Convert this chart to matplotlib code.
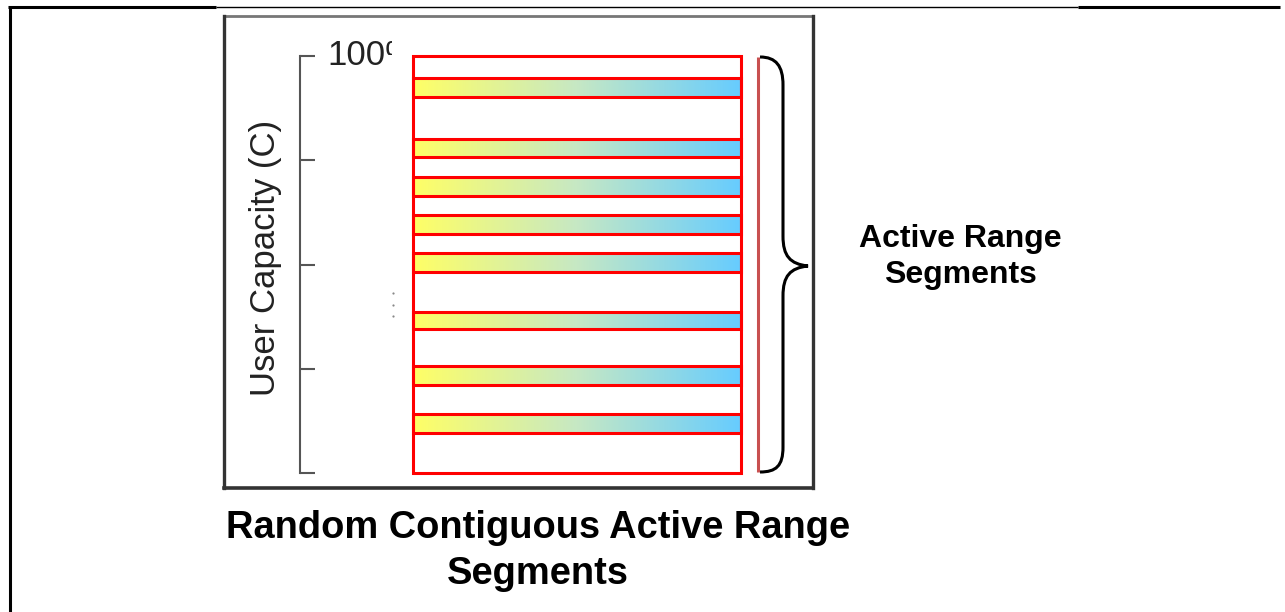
import matplotlib
matplotlib.use("Agg")
import matplotlib.pyplot as plt
import numpy as np
from matplotlib.colors import LinearSegmentedColormap
from matplotlib.path import Path
from matplotlib.patches import PathPatch, Rectangle
from matplotlib.transforms import Bbox, IdentityTransform, offset_copy

plt.rcParams['font.family'] = ['Liberation Sans', 'DejaVu Sans']

# active range segments, in % of user capacity
seg_lo = [90.2, 75.8, 66.4, 57.3, 48.2, 34.5, 21.1, 9.6]
seg_hi = [94.7, 80.1, 71.0, 61.9, 52.8, 38.6, 25.7, 14.1]
capacity_ticks = [0, 25, 50, 75, 100]
top_label = "100%"
y_label = "User Capacity (C)"
side_label = "Active Range\nSegments"
title = "Random Contiguous Active Range\nSegments"

W, H = 1285, 612
fig = plt.figure(figsize=(W / 100, H / 100), dpi=100)

# overlay in pixel coords for frame, box, brace, text
ov = fig.add_axes([0, 0, 1, 1])
ov.set_xlim(0, W)
ov.set_ylim(H, 0)
ov.axis('off')

# outer frame bits
ov.plot([9.5, 9.5], [6, H], color='black', lw=2.2, solid_capstyle='butt')
ov.plot([8, 216], [6.5, 6.5], color='black', lw=2.2, solid_capstyle='butt')
ov.plot([216, 1078], [6.5, 6.5], color='black', lw=1.0, solid_capstyle='butt')
ov.plot([1078, 1280], [6.5, 6.5], color='black', lw=2.2, solid_capstyle='butt')

# inner box
ov.plot([224, 813], [16, 16], color='#777777', lw=2.0)
ov.plot([812.5, 812.5], [16, 488], color='#333333', lw=2.4)
ov.plot([224, 224], [16, 488], color='#333333', lw=2.4)
ov.plot([224, 813], [488, 488], color='#333333', lw=2.6)

# bar axes
left, right, top, bottom = 413, 741, 56, 473
ax = fig.add_axes([left / W, (H - bottom) / H, (right - left) / W, (bottom - top) / H])
ax.patch.set_alpha(0)

cmap = LinearSegmentedColormap.from_list('seg', ['#ffff66', '#c6e8c4', '#66ccff'])
grad = np.linspace(0, 1, 256).reshape(1, -1)
for lo, hi in zip(seg_lo, seg_hi):
    ax.imshow(grad, cmap=cmap, aspect='auto', extent=[0, 1, lo, hi], zorder=1)
    ax.barh((lo + hi) / 2, 1, height=hi - lo, left=0, facecolor='none',
            edgecolor='red', lw=2.2, zorder=2, clip_on=False)
ax.barh(50, 1, height=100, left=0, facecolor='none', edgecolor='red',
        lw=2.2, zorder=3, clip_on=False)
ax.set_xlim(0, 1)
ax.set_ylim(0, 100)

for s in ['top', 'right', 'bottom']:
    ax.spines[s].set_visible(False)
ax.spines['left'].set_position(('outward', 81.4))
ax.spines['left'].set_color('#555555')
ax.spines['left'].set_linewidth(1.5)
ax.spines['left'].set_bounds(0, 100)
ax.set_xticks([])
ax.set_yticks(capacity_ticks)
ax.set_yticklabels([])
ax.tick_params(axis='y', direction='in', length=11, width=1.5, color='#555555')

# "100%" label, cut off like in the source picture
tr = offset_copy(ax.transAxes, fig=fig, x=-86, y=-4, units='dots')
t = ax.text(0, 1.01, top_label, transform=tr, ha='left', va='center',
            fontsize=25, color='#222222')
t.set_clip_box(Bbox([[0, 0], [392, H]]))
t.set_clip_on(True)
fig.add_artist(Rectangle((384, H - 72), 14, 17, transform=IdentityTransform(),
                         facecolor='white', edgecolor='none', zorder=5))

# vertical ellipsis
ov.plot([393, 393, 393], [293, 305, 316], 'o', color='#888888', ms=1.6, mew=0)

ov.text(265, 258, y_label, rotation=90, ha='center', va='center',
        fontsize=25, color='#222222')

# red bar and brace on the right
ov.plot([758, 758], [57, 472], color='#c85050', lw=2.2, solid_capstyle='butt')
verts = [(760, 57), (776, 57), (783, 66), (783, 85),
         (783, 236),
         (783, 256), (790, 264), (808, 266),
         (790, 268), (783, 276), (783, 296),
         (783, 447),
         (783, 466), (776, 472), (760, 472)]
codes = [Path.MOVETO, Path.CURVE4, Path.CURVE4, Path.CURVE4,
         Path.LINETO,
         Path.CURVE4, Path.CURVE4, Path.CURVE4,
         Path.CURVE4, Path.CURVE4, Path.CURVE4,
         Path.LINETO,
         Path.CURVE4, Path.CURVE4, Path.CURVE4]
ov.add_patch(PathPatch(Path(verts, codes), fill=False, edgecolor='black', lw=2.2))

ov.text(960, 257, side_label, ha='center', va='center', fontsize=23,
        fontweight='bold', linespacing=1.27)
ov.text(538, 551, title, ha='center', va='center', fontsize=27.4,
        fontweight='bold', linespacing=1.33)

fig.savefig('out.png', dpi=100)
